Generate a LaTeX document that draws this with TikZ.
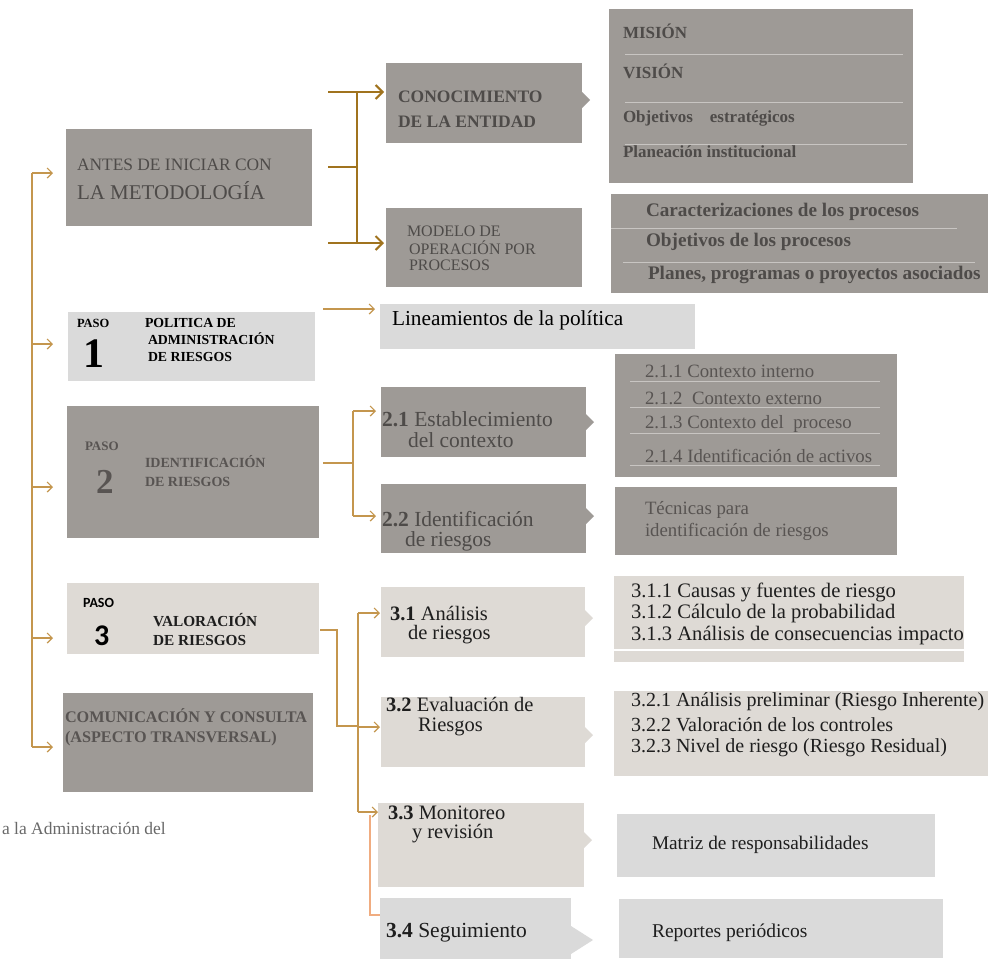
\documentclass[tikz,border=0pt]{standalone}
\usepackage{fontspec}
\setmainfont{Liberation Serif}
\newfontfamily\calfont{Carlito}
\usetikzlibrary{arrows.meta}
\newcommand\fsz[1]{\fontsize{#1}{#1}\selectfont}
\definecolor{cdark}{RGB}{158,154,150}
\definecolor{clight}{RGB}{218,218,218}
\definecolor{cwarm}{RGB}{222,218,213}
\definecolor{gold}{RGB}{160,115,30}
\definecolor{goldl}{RGB}{196,150,78}
\definecolor{orl}{RGB}{240,172,128}
\definecolor{sep}{RGB}{200,197,194}
\definecolor{tdark}{RGB}{78,75,73}
\definecolor{tmid}{RGB}{88,84,82}
\definecolor{tblack}{RGB}{30,30,30}
\definecolor{tfoot}{RGB}{105,105,105}
\tikzset{
  bx/.style={draw=none,inner sep=0pt,outer sep=0pt,anchor=north west},
  tx/.style={anchor=west,inner sep=0pt,outer sep=0pt},
  gl/.style={draw=goldl,line width=1.3pt},
  gt/.style={draw=gold,line width=2.8pt},
  arr/.style={-{Straight Barb[length=5pt,width=10pt,line width=1.2pt]}},
  arrb/.style={-{Straight Barb[length=7pt,width=14pt,line width=2pt]}},
  sepl/.style={draw=sep,line width=1pt},
}
\begin{document}
\begin{tikzpicture}[x=1pt,y=-1pt]
\useasboundingbox (0,0) rectangle (988,959);
\fill[white] (0,0) rectangle (988,959);

% ---------- boxes ----------
\node[bx,fill=cdark,minimum width=246pt,minimum height=97pt] (antes) at (66,129) {};
\node[bx,fill=cdark,minimum width=196pt,minimum height=80pt] (conoc) at (386,63) {};
\node[bx,fill=cdark,minimum width=196pt,minimum height=79pt] (modelo) at (386,208) {};
\node[bx,fill=cdark,minimum width=304pt,minimum height=174pt] (mision) at (609,9) {};
\node[bx,fill=cdark,minimum width=377pt,minimum height=99pt] (caract) at (611,194) {};
\node[bx,fill=clight,minimum width=247pt,minimum height=69pt] (paso1) at (68,312) {};
\node[bx,fill=clight,minimum width=315pt,minimum height=45pt] (linea) at (380,304) {};
\node[bx,fill=cdark,minimum width=252pt,minimum height=132pt] (paso2) at (67,406) {};
\node[bx,fill=cdark,minimum width=205pt,minimum height=70pt] (b21) at (381,387) {};
\node[bx,fill=cdark,minimum width=205pt,minimum height=69pt] (b22) at (381,484) {};
\node[bx,fill=cdark,minimum width=282pt,minimum height=123pt] (c21) at (615,354) {};
\node[bx,fill=cdark,minimum width=282pt,minimum height=68pt] (tec) at (615,487) {};
\node[bx,fill=cwarm,minimum width=252pt,minimum height=71pt] (paso3) at (67,583) {};
\node[bx,fill=cdark,minimum width=250pt,minimum height=99pt] (com) at (63,693) {};
\node[bx,fill=cwarm,minimum width=204pt,minimum height=70pt] (b31) at (381,587) {};
\node[bx,fill=cwarm,minimum width=204pt,minimum height=70pt] (b32) at (381,697) {};
\node[bx,fill=cwarm,minimum width=350pt,minimum height=86pt] (c31) at (614,576) {};
\node[bx,fill=cwarm,minimum width=374pt,minimum height=85pt] (c32) at (614,691) {};
\node[bx,fill=cwarm,minimum width=206pt,minimum height=84pt] (b33) at (378,803) {};
\node[bx,fill=clight,minimum width=191pt,minimum height=61pt] (b34) at (380,898) {};
\node[bx,fill=clight,minimum width=318pt,minimum height=63pt] (matriz) at (617,814) {};
\node[bx,fill=clight,minimum width=324pt,minimum height=59pt] (report) at (619,899) {};

% ---------- pointers ----------
\fill[cdark] (582,92) -- (590,100) -- (582,108) -- cycle;
\fill[cdark] (586,414) -- (594,422) -- (586,430) -- cycle;
\fill[cdark] (586,508) -- (594,516) -- (586,524) -- cycle;
\fill[cwarm] (585,610) -- (593,618) -- (585,626) -- cycle;
\fill[cwarm] (585,727) -- (593,735) -- (585,743) -- cycle;
\fill[cwarm] (584,832) -- (592,840) -- (584,848) -- cycle;
\fill[clight] (571,926) -- (593,940) -- (571,954) -- cycle;

% ---------- separator lines ----------
\draw[sepl] (625,54) -- (903,54);
\draw[sepl] (625,102) -- (903,102);
\draw[sepl] (625,144) -- (907,144);
\draw[sepl] (611,228) -- (957,228);
\draw[sepl] (623,262) -- (975,262);
\draw[sepl] (630,381) -- (880,381);
\draw[sepl] (630,407) -- (880,407);
\draw[sepl] (630,433) -- (880,433);
\draw[sepl] (630,465) -- (880,465);
\draw[draw=white,line width=1.2pt] (614,650) -- (964,650);

% ---------- texts ----------
\node[tx,font=\fsz{17.4},text=tdark] (tA1) at (77,165) {ANTES DE INICIAR CON};
\node[tx,font=\fsz{21},text=tdark] (tA2) at (77,191) {LA METODOLOGÍA};

\node[tx,font=\fsz{17.5}\bfseries,text=tdark] (tC1) at (398,97) {CONOCIMIENTO};
\node[tx,font=\fsz{17.5}\bfseries,text=tdark] (tC2) at (398,122) {DE LA ENTIDAD};

\node[tx,font=\fsz{16},text=tdark] (tM1) at (407,231) {MODELO DE};
\node[tx,font=\fsz{16},text=tdark] (tM2) at (409,248) {OPERACIÓN POR};
\node[tx,font=\fsz{16},text=tdark] (tM3) at (409,265) {PROCESOS};

\node[tx,font=\fsz{17}\bfseries,text=tdark] (tMi1) at (623,31) {MISIÓN};
\node[tx,font=\fsz{17}\bfseries,text=tdark] (tMi2) at (623,71) {VISIÓN};
\node[tx,font=\fsz{17}\bfseries,text=tdark] (tMi3) at (623,118) {Objetivos\quad estratégicos};
\node[tx,font=\fsz{17}\bfseries,text=tdark] (tMi4) at (623,152) {Planeación institucional};

\node[tx,font=\fsz{19.2}\bfseries,text=tdark] (tP1) at (646,212) {Caracterizaciones de los procesos};
\node[tx,font=\fsz{19.2}\bfseries,text=tdark] (tP2) at (646,242) {Objetivos de los procesos};
\node[tx,font=\fsz{19.2}\bfseries,text=tdark] (tP3) at (648,275) {Planes, programas o proyectos asociados};

\node[tx,font=\fsz{12.5}\bfseries,text=black] (tS1a) at (77,323) {PASO};
\node[tx,font=\fsz{42}\bfseries,text=black] (tS1b) at (83,354) {1};
\node[tx,font=\fsz{13.8}\bfseries,text=black] (tS1c) at (145,323) {POLITICA DE};
\node[tx,font=\fsz{13.8}\bfseries,text=black] (tS1d) at (148,339) {ADMINISTRACIÓN};
\node[tx,font=\fsz{13.8}\bfseries,text=black] (tS1e) at (148,357) {DE RIESGOS};

\node[tx,font=\fsz{21.3},text=black] (tL) at (392,320) {Lineamientos de la política};

\node[tx,font=\fsz{13}\bfseries,text=tmid] (tS2a) at (85,446) {PASO};
\node[tx,font=\fsz{35}\bfseries,text=tmid] (tS2b) at (96,482) {2};
\node[tx,font=\fsz{14}\bfseries,text=tmid] (tS2c) at (145,462) {IDENTIFICACIÓN};
\node[tx,font=\fsz{14}\bfseries,text=tmid] (tS2d) at (145,482) {DE RIESGOS};

\node[tx,font=\fsz{21.5},text=tdark] (t21a) at (382,419) {\textbf{2.1} Establecimiento};
\node[tx,font=\fsz{21.5},text=tdark] (t21b) at (408,440) {del contexto};
\node[tx,font=\fsz{21.5},text=tdark] (t22a) at (382,519) {\textbf{2.2} Identificación};
\node[tx,font=\fsz{21.5},text=tdark] (t22b) at (405,541) {de riesgos};

\node[tx,font=\fsz{18.8},text=tmid] (t211) at (645,371) {2.1.1 Contexto interno};
\node[tx,font=\fsz{18.8},text=tmid] (t212) at (645,398) {2.1.2\ \ Contexto externo};
\node[tx,font=\fsz{18.8},text=tmid] (t213) at (645,424) {2.1.3 Contexto del\ \ proceso};
\node[tx,font=\fsz{18.8},text=tmid] (t214) at (645,456) {2.1.4 Identificación de activos};
\node[tx,font=\fsz{18.8},text=tmid] (tT1) at (645,510) {Técnicas para};
\node[tx,font=\fsz{18.8},text=tmid] (tT2) at (645,532) {identificación de riesgos};

\node[tx,font=\calfont\fsz{14}\bfseries,text=black] (tS3a) at (83,603) {PASO};
\node[tx,font=\calfont\fsz{30}\bfseries,text=black] (tS3b) at (94,636) {3};
\node[tx,font=\fsz{15.3}\bfseries,text=tblack] (tS3c) at (153,620) {VALORACIÓN};
\node[tx,font=\fsz{15.3}\bfseries,text=tblack] (tS3d) at (153,640) {DE RIESGOS};

\node[tx,font=\fsz{16.2}\bfseries,text=tmid] (tCo1) at (65,716) {COMUNICACIÓN Y CONSULTA};
\node[tx,font=\fsz{16.2}\bfseries,text=tmid] (tCo2) at (65,739) {(ASPECTO TRANSVERSAL)};

\node[tx,font=\fsz{20.5},text=tblack] (t31a) at (390,614) {\textbf{3.1} Análisis};
\node[tx,font=\fsz{20.5},text=tblack] (t31b) at (408,635) {de riesgos};
\node[tx,font=\fsz{20.5},text=tblack] (t32a) at (386,705) {\textbf{3.2} Evaluación de};
\node[tx,font=\fsz{20.5},text=tblack] (t32b) at (418,727) {Riesgos};
\node[tx,font=\fsz{20.5},text=tblack] (t33a) at (388,813) {\textbf{3.3} Monitoreo};
\node[tx,font=\fsz{20.5},text=tblack] (t33b) at (412,834) {y revisión};
\node[tx,font=\fsz{21.5},text=tblack] (t34) at (386,933) {\textbf{3.4} Seguimiento};

\node[tx,font=\fsz{20.6},text=tblack] (t311) at (631,592) {3.1.1 Causas y fuentes de riesgo};
\node[tx,font=\fsz{20.6},text=tblack] (t312) at (631,614) {3.1.2 Cálculo de la probabilidad};
\node[tx,font=\fsz{20.6},text=tblack] (t313) at (631,636) {3.1.3 Análisis de consecuencias impacto};
\node[tx,font=\fsz{20},text=tblack] (t321) at (631,702) {3.2.1 Análisis preliminar (Riesgo Inherente)};
\node[tx,font=\fsz{20},text=tblack] (t322) at (631,725) {3.2.2 Valoración de los controles};
\node[tx,font=\fsz{20},text=tblack] (t323) at (631,748) {3.2.3 Nivel de riesgo (Riesgo Residual)};

\node[tx,font=\fsz{19.3},text=tblack] (tMa) at (652,845) {Matriz de responsabilidades};
\node[tx,font=\fsz{19.5},text=tblack] (tRe) at (652,933) {Reportes periódicos};

\node[tx,font=\fsz{17.5},text=tfoot] (tFoot) at (2,828) {a la Administración del};

% ---------- connectors ----------
% left bus
\coordinate (bus1) at (32,173);
\coordinate (bus2) at (32,344);
\coordinate (bus3) at (32,487);
\coordinate (bus4) at (32,638);
\coordinate (bus5) at (32,747);
\coordinate (e1) at (53,173);
\coordinate (e2) at (53,344);
\coordinate (e3) at (53,487);
\coordinate (e4) at (53,638);
\coordinate (e5) at (53,747);
\draw[gl] (bus1) -- (bus5);
\draw[gl,arr] (bus1) -- (e1);
\draw[gl,arr] (bus2) -- (e2);
\draw[gl,arr] (bus3) -- (e3);
\draw[gl,arr] (bus4) -- (e4);
\draw[gl,arr] (bus5) -- (e5);

% top bracket
\coordinate (k1) at (328,92);
\coordinate (k2) at (328,167);
\coordinate (k3) at (328,243);
\coordinate (kv1) at (357,92);
\coordinate (kv2) at (357,167);
\coordinate (kv3) at (357,243);
\coordinate (ke1) at (384,92);
\coordinate (ke3) at (384,243);
\draw[gt] (kv1) -- (kv3);
\draw[gt] (k2) -- (kv2);
\draw[gt,arrb] (k1) -- (ke1);
\draw[gt,arrb] (k3) -- (ke3);

% paso 1
\coordinate (p1s) at (323,309);
\coordinate (p1e) at (375,309);
\draw[gl,arr] (p1s) -- (p1e);

% paso 2 bracket
\coordinate (p2s) at (323,463);
\coordinate (p2j) at (353,463);
\coordinate (p2a) at (353,411);
\coordinate (p2b) at (353,516);
\coordinate (p2ae) at (376,411);
\coordinate (p2be) at (376,516);
\draw[gl] (p2s) -- (p2j);
\draw[gl] (p2a) -- (p2b);
\draw[gl,arr] (p2a) -- (p2ae);
\draw[gl,arr] (p2b) -- (p2be);

% paso 3
\coordinate (p3s) at (320,630);
\coordinate (p3m) at (337,630);
\coordinate (p3n) at (337,726);
\coordinate (p3j) at (357,726);
\draw[gl] (p3s) -- (p3m) -- (p3n) -- (p3j);
\coordinate (v1) at (358,613);
\coordinate (v2) at (358,727);
\coordinate (v3) at (358,812);
\coordinate (v1e) at (380,613);
\coordinate (v2e) at (380,727);
\coordinate (v3e) at (378,812);
\draw[gl] (v1) -- (v3);
\draw[gl,arr] (v1) -- (v1e);
\draw[gl,arr] (v2) -- (v2e);
\draw[gl,arr] (v3) -- (v3e);
\coordinate (o1) at (370,815);
\coordinate (o2) at (370,915);
\coordinate (o3) at (380,915);
\draw[draw=orl,line width=1.2pt] (o1) -- (o2) -- (o3);
\end{tikzpicture}
\end{document}
